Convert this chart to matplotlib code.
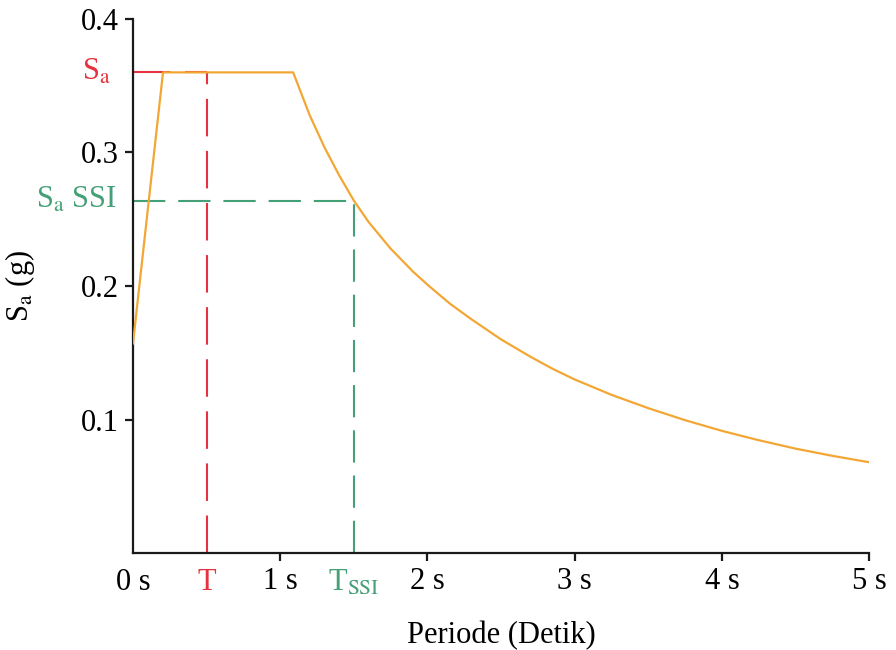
import numpy as np
import matplotlib.pyplot as plt

plt.rcParams['font.family'] = ['Liberation Serif', 'DejaVu Serif']
plt.rcParams['mathtext.fontset'] = 'stix'

# Spectrum (period in s, Sa in g)
T_curve = [0.0, 0.204, 1.088, 1.2, 1.3, 1.4, 1.5, 1.6, 1.75, 1.9, 2.0, 2.15,
           2.3, 2.5, 2.7, 2.85, 3.0, 3.25, 3.5, 3.75, 4.0, 4.25, 4.5, 4.75, 5.0]
Sa_curve = [0.157, 0.36, 0.36, 0.328, 0.304, 0.283, 0.264, 0.248, 0.228, 0.211,
            0.201, 0.187, 0.175, 0.160, 0.147, 0.138, 0.130, 0.1185, 0.1085,
            0.0995, 0.0915, 0.0845, 0.0782, 0.0728, 0.068]

T_fixed, Sa_fixed = 0.5, 0.36
T_ssi, Sa_ssi = 1.5, 0.264

x_ticks = [1, 2, 3, 4, 5]
y_ticks = [0.1, 0.2, 0.3, 0.4]

red = '#e5323e'
green = '#45a078'
orange = '#f2a735'

fig = plt.figure(figsize=(8.96, 6.5), dpi=100)
ax = fig.add_axes([0.1484, 0.1492, 0.8216, 0.8216])

ax.plot(T_curve, Sa_curve, color=orange, lw=1.6, zorder=3)

red_dash = (18, 7)
green_dash = (15.5, 6.2)
ax.plot([0, T_fixed], [Sa_fixed, Sa_fixed], color=red, lw=1.5, dashes=red_dash, zorder=2)
ax.plot([T_fixed, T_fixed], [0, Sa_fixed], color=red, lw=1.5, dashes=red_dash, zorder=2)
ax.plot([0, T_ssi], [Sa_ssi, Sa_ssi], color=green, lw=1.5, dashes=green_dash, zorder=2)
ax.plot([T_ssi, T_ssi], [0, Sa_ssi], color=green, lw=1.5, dashes=green_dash, zorder=2)

ax.set_xlim(0, 5)
ax.set_ylim(0, 0.4)
ax.spines['top'].set_visible(False)
ax.spines['right'].set_visible(False)
for s in ['left', 'bottom']:
    ax.spines[s].set_linewidth(1.6)
    ax.spines[s].set_color('#1a1a1a')

fs = 22
ax.set_xticks(x_ticks)
ax.set_xticklabels(['%d s' % t for t in x_ticks])
ax.set_yticks(y_ticks)
ax.set_yticklabels(['%.1f' % v for v in y_ticks])
ax.tick_params(axis='both', direction='out', length=6, width=1.6,
               color='#1a1a1a', labelsize=fs, pad=4)

# labels without tick marks
ax.text(0, -0.0115, '0 s', ha='center', va='top', fontsize=fs)
ax.text(T_fixed, -0.0115, 'T', ha='center', va='top', fontsize=fs, color=red)
ax.text(T_ssi, -0.0115, r'T$_{\mathrm{SSI}}$', ha='center', va='top', fontsize=fs, color=green)
ax.text(-0.15, Sa_fixed, r'S$_{\mathrm{a}}$', ha='right', va='center', fontsize=fs, color=red)
ax.text(-0.11, Sa_ssi, r'S$_{\mathrm{a}}$ SSI', ha='right', va='center', fontsize=fs, color=green)

ax.set_xlabel('Periode (Detik)', fontsize=fs, labelpad=18)
ax.set_ylabel(r'S$_{\mathrm{a}}$ (g)', fontsize=fs, labelpad=32)

fig.savefig('out.png', dpi=100)
